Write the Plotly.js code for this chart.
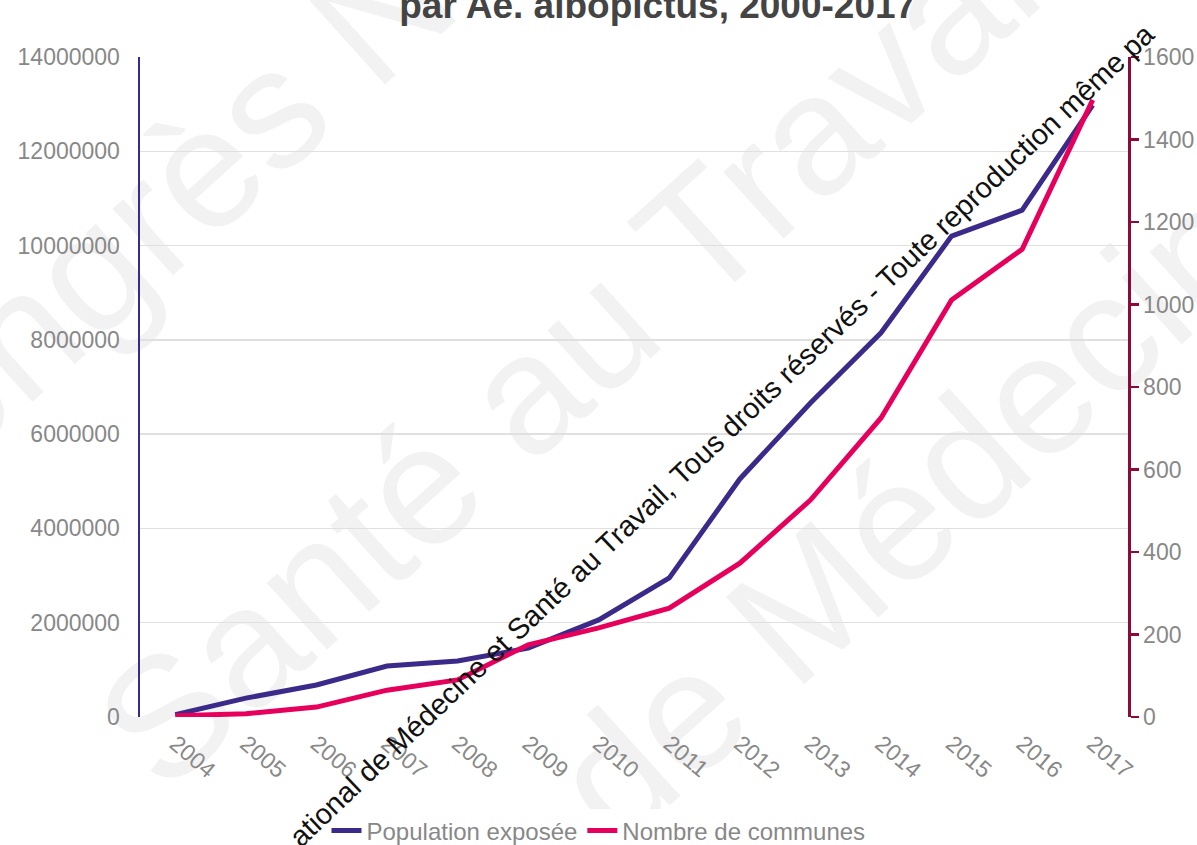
<!DOCTYPE html>
<html>
<head>
<meta charset="utf-8">
<script src="https://cdn.plot.ly/plotly-3.0.1.min.js"></script>
<style>html,body{margin:0;padding:0;background:#fff;}#chart{width:1197px;height:845px;}</style>
</head>
<body>
<div id="chart"></div>
<script>
const years = ["2004","2005","2006","2007","2008","2009","2010","2011","2012","2013","2014","2015","2016","2017"];
const populationExposee = [50000,400000,680000,1080000,1190000,1460000,2060000,2950000,5050000,6660000,8150000,10200000,10750000,12980000];
const nombreCommunes = [3,8,24,65,90,175,216,264,373,526,725,1011,1134,1496];
const seriesNames = ["Population exposée","Nombre de communes"];
const titleText = "par Ae. albopictus, 2000-2017";
const watermark = "ational de Médecine et Santé au Travail, Tous droits réservés - Toute reproduction même pa";
const bgWatermarks = ["Congrès National", "Santé au Travail", "de Médecine"];

const traces = [
  {x: years, y: populationExposee, name: seriesNames[0], type: "scatter", mode: "lines",
   line: {color: "#3c2a8a", width: 5}, yaxis: "y"},
  {x: years, y: nombreCommunes, name: seriesNames[1], type: "scatter", mode: "lines",
   line: {color: "#e6005c", width: 5}, yaxis: "y2"}
];

const W = 1197, H = 845;
function wm(text, px, py) {
  const cx = (px - 140) / 988, cy = (717 - py) / 660;
  return {type: "rect", xref: "paper", yref: "paper", x0: cx - 0.005, x1: cx + 0.005, y0: cy - 0.005, y1: cy + 0.005,
          line: {width: 0}, fillcolor: "rgba(0,0,0,0)", layer: "below",
          label: {text: text, textangle: -42, textposition: "middle center",
                  font: {size: 170, color: "#f2f2f2", family: "Liberation Sans, Arial, sans-serif"}}};
}
const layout = {
  width: W, height: H,
  margin: {l: 140, r: 69, t: 57, b: 128},
  paper_bgcolor: "#fff", plot_bgcolor: "rgba(0,0,0,0)",
  font: {family: "Liberation Sans, Arial, sans-serif", color: "#888"},
  title: {text: titleText, font: {size: 37, color: "#444", family: "Liberation Sans, Arial, sans-serif", weight: "bold"},
          x: 0.524, xref: "paper", xanchor: "center", y: 1 - 5/845, yanchor: "middle", yref: "container"},
  showlegend: true,
  legend: {orientation: "h", x: 0.5, xref: "container", xanchor: "center", y: 14/845, yref: "container", yanchor: "middle",
           font: {size: 24, color: "#888"}},
  xaxis: {type: "category", range: [-0.5, 13.5], tickangle: 40, showgrid: false, zeroline: false, automargin: false,
          showline: false, ticks: "", ticklabelstandoff: 8, tickfont: {size: 23, color: "#888"}},
  yaxis: {range: [0, 14000000], dtick: 2000000, tickformat: "d", showgrid: true, gridcolor: "#e0e0e0", gridwidth: 1.5,
          zeroline: false, showline: true, linecolor: "#3c2a8a", linewidth: 2.5, ticks: "", automargin: false,
          ticklabelstandoff: 13, tickfont: {size: 23, color: "#888"}},
  yaxis2: {range: [0, 1600], dtick: 200, overlaying: "y", side: "right", showgrid: false, zeroline: false, automargin: false,
           showline: true, linecolor: "#8b0a3a", linewidth: 2.5, ticks: "outside", ticklen: 8,
           tickwidth: 2.5, tickcolor: "#8b0a3a", tickfont: {size: 23, color: "#888"}},
  shapes: [
    wm(bgWatermarks[0], 300, 60),
    wm(bgWatermarks[1], 570, 330),
    wm(bgWatermarks[2], 930, 470)
  ],
  annotations: [
    {text: watermark, xref: "paper", yref: "paper", x: (722 - 140) / 988, y: (717 - 435) / 660,
     xanchor: "center", yanchor: "middle", showarrow: false,
     textangle: -43.5, font: {size: 29, color: "#111"}}
  ]
};

Plotly.newPlot("chart", traces, layout, {displayModeBar: false, staticPlot: true});
</script>
</body>
</html>
